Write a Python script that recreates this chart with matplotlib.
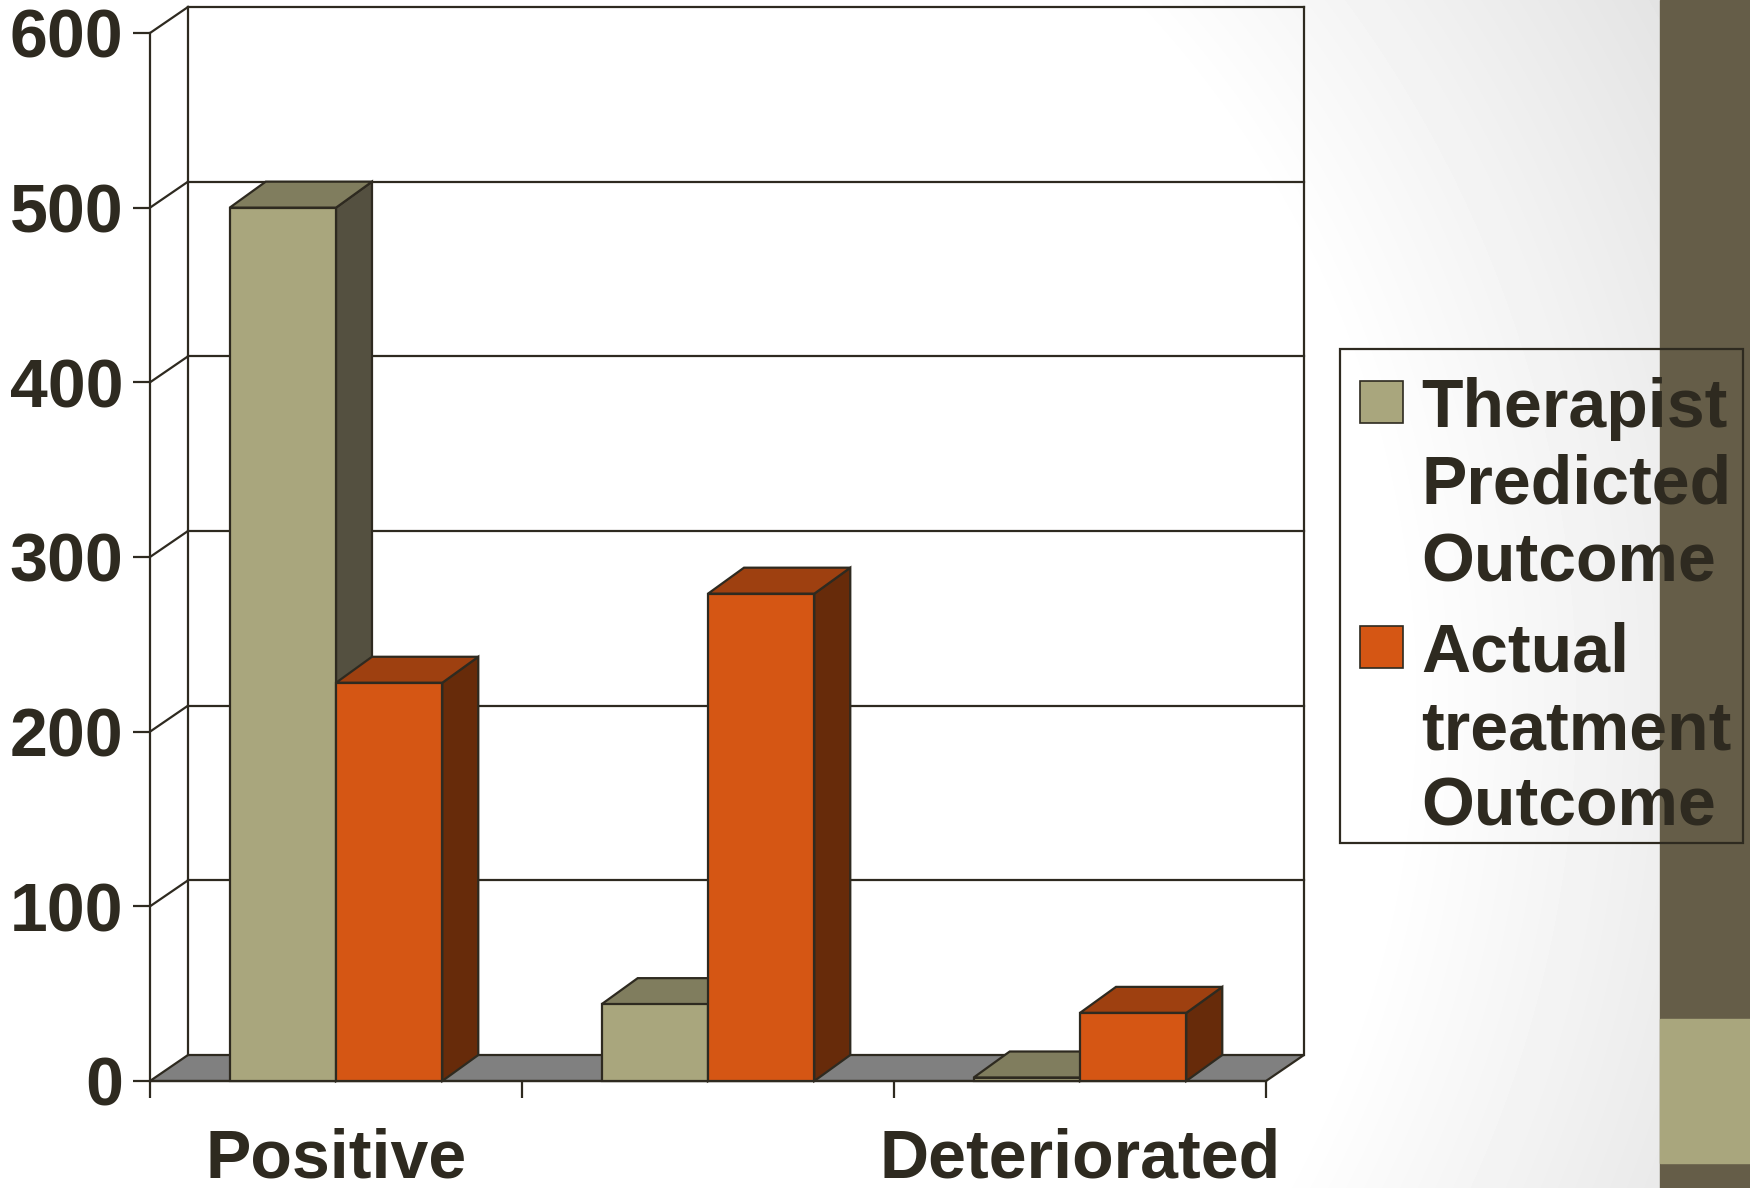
import numpy as np
import matplotlib
matplotlib.use("Agg")
import matplotlib.pyplot as plt
from matplotlib.patches import Polygon, Rectangle

# outcome counts per category
categories = ["Positive", "", "Deteriorated"]
series_names = ["Therapist\nPredicted\nOutcome", "Actual\ntreatment\nOutcome"]
therapist_predicted = [500, 44, 2]
actual_outcome = [228, 279, 39]
y_ticks = [0, 100, 200, 300, 400, 500, 600]

front_colors = ["#A9A67D", "#D55614"]
top_colors = ["#807D5E", "#9E4010"]
side_colors = ["#545040", "#672B0A"]
ink = "#2E2A20"
lw = 1.6

plt.rcParams["font.family"] = ["Liberation Sans", "DejaVu Sans"]
plt.rcParams["font.weight"] = "bold"

W, H = 1750, 1188
fig = plt.figure(figsize=(W / 100, H / 100), dpi=100)

# slide background: soft radial shading plus the side stripe
bg = fig.add_axes([0, 0, 1, 1], zorder=-10)
yy, xx = np.mgrid[0:H, 0:W]
r = np.hypot(xx - 400, yy - 700)
shade = 1 - 0.11 * np.clip((r - 1000) / 450, 0, 1)
bg.imshow(shade, cmap="gray", vmin=0, vmax=1, extent=[0, W, H, 0],
          aspect="auto", interpolation="bilinear")
bg.set_xlim(0, W)
bg.set_ylim(H, 0)
bg.axis("off")
bg.add_patch(Rectangle((1660, 0), 90, H, color="#655D48", zorder=2))
bg.add_patch(Rectangle((1660, 1019), 90, 144, color="#A9A67D", zorder=2))

# chart area (front plane)
ax = fig.add_axes([150 / W, (H - 1081) / H, 1116 / W, 1048 / H])
ax.set_facecolor("none")
n = len(categories)
ax.set_xlim(0, n)
ax.set_ylim(0, y_ticks[-1])


def px_to_data(dx_px, dy_px):
    x0, y0 = ax.transData.transform((0, 0))
    x1, y1 = ax.transData.inverted().transform((x0 + dx_px, y0 + dy_px))
    return x1, y1


wall_dx, wall_dy = px_to_data(38, 26)
bar_dx, bar_dy = px_to_data(36, 26)
top = y_ticks[-1]

# floor
ax.add_patch(Polygon([(0, 0), (n, 0), (n + wall_dx, wall_dy), (wall_dx, wall_dy)],
                     facecolor="#808080", edgecolor=ink, lw=lw, zorder=1, clip_on=False))

# side wall and back wall gridlines
for v in y_ticks[1:]:
    ax.plot([0, wall_dx], [v, v + wall_dy], color=ink, lw=lw, clip_on=False, zorder=1)
    ax.plot([wall_dx, n + wall_dx], [v + wall_dy, v + wall_dy], color=ink, lw=lw,
            clip_on=False, zorder=1)
for xb in (wall_dx, n + wall_dx):
    ax.plot([xb, xb], [wall_dy, top + wall_dy], color=ink, lw=lw, clip_on=False, zorder=1)

# 3D-looking bars
w = 1 / 3.5
z = 3
for i in range(n):
    for s, vals in enumerate([therapist_predicted, actual_outcome]):
        h = vals[i]
        x0 = i + 0.5 - w + s * w
        x1 = x0 + w
        ax.add_patch(Polygon([(x1, 0), (x1 + bar_dx, bar_dy), (x1 + bar_dx, h + bar_dy), (x1, h)],
                             facecolor=side_colors[s], edgecolor=ink, lw=lw, zorder=z, clip_on=False))
        ax.add_patch(Polygon([(x0, h), (x1, h), (x1 + bar_dx, h + bar_dy), (x0 + bar_dx, h + bar_dy)],
                             facecolor=top_colors[s], edgecolor=ink, lw=lw, zorder=z, clip_on=False))
        ax.add_patch(Rectangle((x0, 0), w, h, facecolor=front_colors[s], edgecolor=ink,
                               lw=lw, zorder=z + 0.5, clip_on=False))
        z += 1

# axes, ticks and labels
for side in ("top", "right"):
    ax.spines[side].set_visible(False)
for side in ("left", "bottom"):
    ax.spines[side].set_color(ink)
    ax.spines[side].set_linewidth(lw)
ax.set_yticks(y_ticks)
ax.set_yticklabels([str(v) for v in y_ticks], fontsize=49, color=ink)
ax.tick_params(axis="y", length=12.2, width=lw, color=ink, pad=7)
ax.set_xticks(range(n + 1))
ax.set_xticklabels([""] * (n + 1))
ax.tick_params(axis="x", which="major", length=12.2, width=lw, color=ink)
ax.set_xticks([i + 0.5 for i in range(n)], minor=True)
ax.set_xticklabels(categories, minor=True, fontsize=49, color=ink)
ax.tick_params(axis="x", which="minor", length=0, pad=33.5)

# legend box drawn in slide pixel coordinates
bg.add_patch(Rectangle((1340, 349), 403, 494, fill=False, edgecolor=ink, lw=lw, zorder=5))
first_baselines = [427, 672]
for s, name in enumerate(series_names):
    b0 = first_baselines[s]
    bg.add_patch(Rectangle((1360, b0 - 46), 43, 42, facecolor=front_colors[s],
                           edgecolor=ink, lw=1.2, zorder=5))
    for k, line in enumerate(name.split("\n")):
        bg.text(1421, b0 + k * 77, line, fontsize=49, color=ink, ha="left",
                va="baseline", zorder=6)

fig.savefig("out.png", dpi=100)
